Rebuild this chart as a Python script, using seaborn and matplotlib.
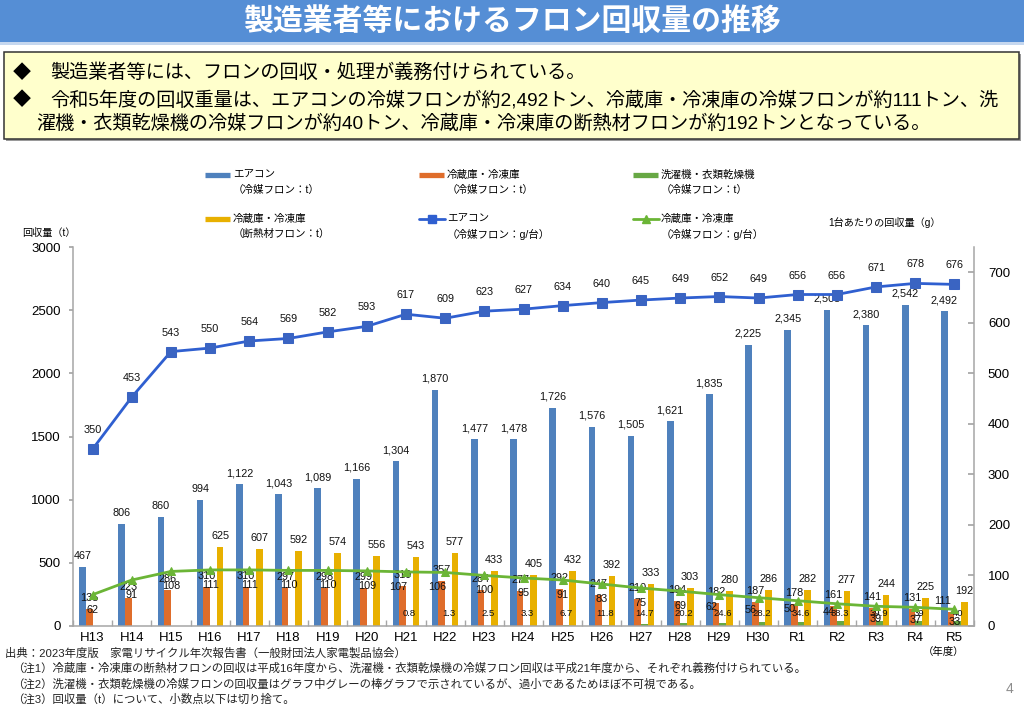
import numpy as np
import pandas as pd
import matplotlib
matplotlib.use("Agg")
import matplotlib.pyplot as plt
from matplotlib.patches import Rectangle
from matplotlib.lines import Line2D
import seaborn as sns

# ---------------- data ----------------
years = ["H13", "H14", "H15", "H16", "H17", "H18", "H19", "H20", "H21", "H22",
         "H23", "H24", "H25", "H26", "H27", "H28", "H29", "H30",
         "R1", "R2", "R3", "R4", "R5"]
aircon_t = [467, 806, 860, 994, 1122, 1043, 1089, 1166, 1304, 1870, 1477, 1478,
            1726, 1576, 1505, 1621, 1835, 2225, 2345, 2505, 2380, 2542, 2492]
fridge_t = [135, 223, 286, 310, 310, 297, 298, 299, 319, 357, 284, 277,
            292, 247, 210, 194, 182, 187, 178, 161, 141, 131, 111]
washer_t = [np.nan] * 8 + [0.8, 1.3, 2.5, 3.3, 6.7, 11.8, 14.7, 20.2, 24.6, 28.2,
                           34.6, 38.3, 39.9, 39, 40]
insul_t = [np.nan] * 3 + [625, 607, 592, 574, 556, 543, 577, 433, 405, 432, 392,
                          333, 303, 280, 286, 282, 277, 244, 225, 192]
aircon_gpu = [350, 453, 543, 550, 564, 569, 582, 593, 617, 609, 623, 627, 634,
              640, 645, 649, 652, 649, 656, 656, 671, 678, 676]
fridge_gpu = [62, 91, 108, 111, 111, 110, 110, 109, 107, 106, 100, 95, 91,
              83, 75, 69, 62, 56, 50, 44, 39, 37, 33]

series_names = ["エアコン（冷媒フロン：t）", "冷蔵庫・冷凍庫（冷媒フロン：t）",
                "洗濯機・衣類乾燥機（冷媒フロン：t）", "冷蔵庫・冷凍庫（断熱材フロン：t）"]

title = "製造業者等におけるフロン回収量の推移"
bullet1 = "製造業者等には、フロンの回収・処理が義務付けられている。"
bullet2a = "令和5年度の回収重量は、エアコンの冷媒フロンが約2,492トン、冷蔵庫・冷凍庫の冷媒フロンが約111トン、洗"
bullet2b = "濯機・衣類乾燥機の冷媒フロンが約40トン、冷蔵庫・冷凍庫の断熱材フロンが約192トンとなっている。"
notes = ["出典：2023年度版　家電リサイクル年次報告書（一般財団法人家電製品協会）",
         "（注1）冷蔵庫・冷凍庫の断熱材フロンの回収は平成16年度から、洗濯機・衣類乾燥機の冷媒フロン回収は平成21年度から、それぞれ義務付けられている。",
         "（注2）洗濯機・衣類乾燥機の冷媒フロンの回収量はグラフ中グレーの棒グラフで示されているが、過小であるためほぼ不可視である。",
         "（注3）回収量（t）について、小数点以下は切り捨て。"]

# ---------------- styling ----------------
C_BLUE, C_ORANGE, C_GREEN, C_YELLOW = "#4f81bd", "#df6d2b", "#67a844", "#e8b000"
C_LBLUE, C_LBLUE_M, C_LGREEN = "#2f5fd0", "#3a64c2", "#6bb536"
GREY = "#a6a6a6"

sns.set_theme(style="white")
plt.rcParams["font.family"] = ["Liberation Sans", "Noto Sans CJK JP", "DejaVu Sans"]

W, H = 1024, 710
fig = plt.figure(figsize=(W / 100, H / 100), dpi=100)


def fx(x):
    return x / W


def fy(y):
    return 1 - y / H


PX = 0.72  # points per pixel

# ---------------- header ----------------
fig.add_artist(Rectangle((0, fy(42)), 1, 42 / H, transform=fig.transFigure,
                         facecolor="#558ed5", edgecolor="none"))
fig.add_artist(Rectangle((0, fy(45)), 1, 3 / H, transform=fig.transFigure,
                         facecolor="#c5d7ef", edgecolor="none"))
fig.text(0.5, fy(21), title, ha="center", va="center", color="white",
         fontsize=21.5, fontweight="bold", family=["Noto Sans CJK JP"])

fig.add_artist(Rectangle((fx(6), fy(141)), 1015 / W, 87 / H, transform=fig.transFigure,
                         facecolor="#9a9a9a", edgecolor="none"))
fig.add_artist(Rectangle((fx(4), fy(139)), 1015 / W, 87 / H, transform=fig.transFigure,
                         facecolor="#ffffcc", edgecolor="#333333", linewidth=1.1))
for yy in (73, 100):
    fig.text(fx(13), fy(yy), "◆", ha="left", va="center", fontsize=13,
             family=["Noto Sans CJK JP"], color="black")
fig.text(fx(50), fy(73), bullet1, ha="left", va="center", fontsize=13.8, color="black")
fig.text(fx(50), fy(100), bullet2a, ha="left", va="center", fontsize=13.8, color="black")
fig.text(fx(36), fy(124), bullet2b, ha="left", va="center", fontsize=13.8, color="black")

# ---------------- chart ----------------
rows = []
for name, vals in zip(series_names, [aircon_t, fridge_t, washer_t, insul_t]):
    for yr, v in zip(years, vals):
        if not pd.isna(v):
            rows.append((yr, name, v))
df = pd.DataFrame(rows, columns=["year", "series", "value"])

ax = fig.add_axes([fx(73), fy(626), 901 / W, 379 / H])
BW = 0.68
sns.barplot(data=df, x="year", y="value", hue="series", order=years,
            hue_order=series_names, palette=[C_BLUE, C_ORANGE, C_GREEN, C_YELLOW],
            width=BW, dodge=True, errorbar=None, saturation=1, linewidth=0,
            legend=False, ax=ax)
ax.set_xlim(-0.5, len(years) - 0.5)
ax.set_ylim(0, 3000)
ax.set_xlabel("")
ax.set_ylabel("")
ax.set_yticks(np.arange(0, 3001, 500))
ax.set_yticklabels([str(v) for v in range(0, 3001, 500)])
ax.set_xticks(np.arange(len(years)))
ax.set_xticklabels(years)
ax.set_xticks(np.arange(-0.5, len(years), 1), minor=True)
ax.tick_params(axis="y", direction="out", length=3, color=GREY, labelsize=9.5,
               pad=6, left=True, labelcolor="black")
ax.tick_params(axis="x", which="major", length=0, labelsize=9.5, pad=4.5, labelcolor="black")
ax.tick_params(axis="x", which="minor", direction="in", length=4, color=GREY, bottom=True)
for s in ("top", "right"):
    ax.spines[s].set_visible(False)
for s in ("left", "bottom"):
    ax.spines[s].set_color(GREY)
    ax.spines[s].set_linewidth(1.1)

ax2 = ax.twinx()
idx = np.arange(len(years))
sns.lineplot(x=idx, y=aircon_gpu, ax=ax2, color=C_LBLUE, linewidth=2.0, marker="s",
             markersize=6.5, markerfacecolor=C_LBLUE_M, markeredgecolor=C_LBLUE_M,
             sort=False)
sns.lineplot(x=idx, y=fridge_gpu, ax=ax2, color=C_LGREEN, linewidth=2.0, marker="^",
             markersize=6, markerfacecolor=C_LGREEN, markeredgecolor=C_LGREEN,
             sort=False)
ax2.set_ylim(0, 750)
ax.set_xlim(-0.5, len(years) - 0.5)
ax2.set_yticks(np.arange(0, 701, 100))
ax2.set_yticklabels([str(v) for v in range(0, 701, 100)])
ax2.set_ylabel("")
ax2.set_xlabel("")
ax2.tick_params(axis="y", direction="in", length=4, color=GREY, labelsize=9.5,
                pad=10, right=True, labelcolor="black")
for s in ("top", "left", "bottom"):
    ax2.spines[s].set_visible(False)
ax2.spines["right"].set_color(GREY)
ax2.spines["right"].set_linewidth(1.1)

bw = BW / 4
offs = [(-1.5 + k) * bw for k in range(4)]


def lab(axis, x, y, s, dx=0.0, dy=0.0, size=7.8, va="center", ha="center"):
    axis.annotate(s, xy=(x, y), xytext=(dx * PX, dy * PX), textcoords="offset points",
                  ha=ha, va=va, fontsize=size, color="#111111", zorder=6)


n = len(years)
for i in range(n):
    lab(ax, i + offs[0], aircon_t[i], f"{aircon_t[i]:,}", dy=11)
    dx_o = -8 if i == n - 1 else 0
    lab(ax, i + offs[1], fridge_t[i], f"{fridge_t[i]:,}", dx=dx_o, dy=11)
    if not pd.isna(insul_t[i]):
        lab(ax, i + offs[3], insul_t[i], f"{insul_t[i]:,}", dy=11)
    if not pd.isna(washer_t[i]):
        lab(ax, i + offs[2], 0, f"{washer_t[i]:g}", dy=13, size=6.8)
    # per-unit labels sit just below the green line
    if i < 16:
        dy_g = -15
    elif i < 18:
        dy_g = -12
    elif i < 20:
        dy_g = -8
    else:
        dy_g = -13
    if i in (8, 9):
        dx_g = -8
    elif 16 <= i <= 19:
        dx_g = -8
    else:
        dx_g = 0
    lab(ax2, i, fridge_gpu[i], f"{fridge_gpu[i]}", dx=dx_g, dy=dy_g)
    lab(ax2, i, aircon_gpu[i], f"{aircon_gpu[i]}", dy=19)

# axis captions
fig.text(fx(22), fy(233), "回収量（t）", ha="left", va="center", fontsize=7.3, color="black")
fig.text(fx(828), fy(222), "1台あたりの回収量（g）", ha="left", va="center", fontsize=7.3,
         color="black")
fig.text(fx(944), fy(652), "（年度）", ha="center", va="center", fontsize=7.5, color="black")

# ---------------- legend (drawn manually) ----------------
leg = [
    (205, 175, "bar", C_BLUE, None, "エアコン", "（冷媒フロン：t）"),
    (419, 175, "bar", C_ORANGE, None, "冷蔵庫・冷凍庫", "（冷媒フロン：t）"),
    (633, 175, "bar", C_GREEN, None, "洗濯機・衣類乾燥機", "（冷媒フロン：t）"),
    (205, 219, "bar", C_YELLOW, None, "冷蔵庫・冷凍庫", "（断熱材フロン：t）"),
    (419, 219, "line", C_LBLUE, "s", "エアコン", "（冷媒フロン：g/台）"),
    (633, 219, "line", C_LGREEN, "^", "冷蔵庫・冷凍庫", "（冷媒フロン：g/台）"),
]
for x0, y0, kind, col, mk, t1, t2 in leg:
    if kind == "bar":
        fig.add_artist(Line2D([fx(x0), fx(x0 + 25)], [fy(y0), fy(y0)],
                              transform=fig.transFigure, color=col, linewidth=3.8,
                              solid_capstyle="butt"))
    else:
        fig.add_artist(Line2D([fx(x0), fx(x0 + 26)], [fy(y0), fy(y0)],
                              transform=fig.transFigure, color=col, linewidth=2.0))
        fig.add_artist(Line2D([fx(x0 + 13)], [fy(y0)], transform=fig.transFigure,
                              color=col, marker=mk, markersize=6, linestyle="none"))
    fig.text(fx(x0 + 28), fy(y0), t1, ha="left", va="center", fontsize=7.6, color="black")
    fig.text(fx(x0 + 28), fy(y0 + 15), t2, ha="left", va="center", fontsize=7.6,
             color="black")

# ---------------- footnotes ----------------
fig.text(fx(5), fy(653), notes[0], ha="left", va="center", fontsize=8.2, color="#222222")
for k, yy in enumerate((668, 684, 699)):
    fig.text(fx(12), fy(yy), notes[k + 1], ha="left", va="center", fontsize=8.2,
             color="#222222")
fig.text(fx(1010), fy(689), "4", ha="center", va="center", fontsize=10, color="#8c8c8c")

fig.savefig("out.png", dpi=100)
